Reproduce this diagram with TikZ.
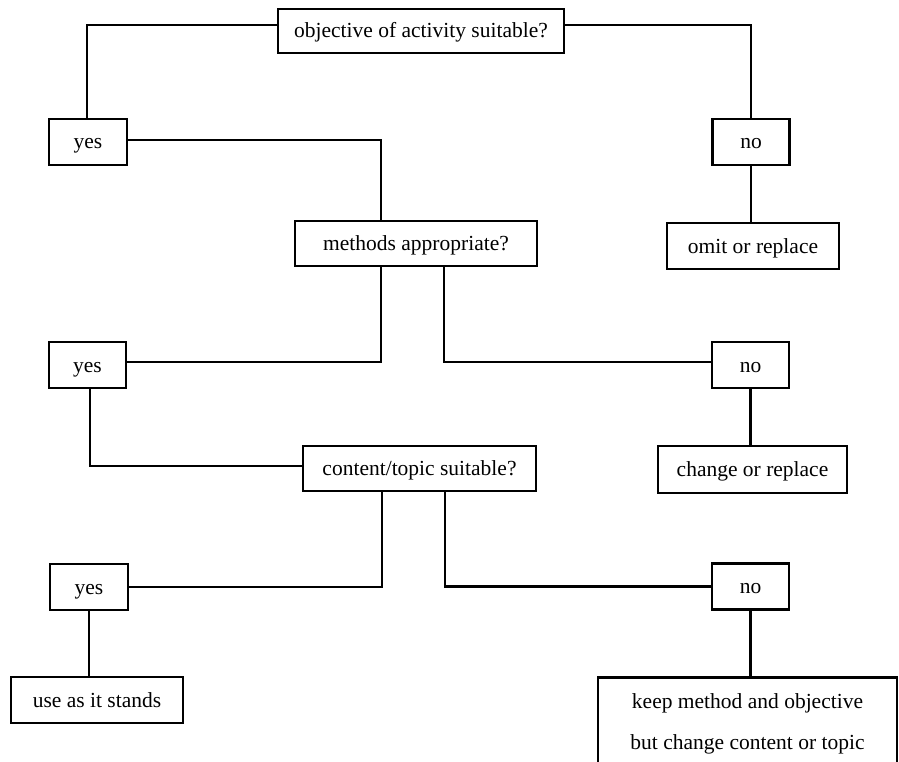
\documentclass[tikz,border=0pt]{standalone}
\usepackage{fontspec}
\setmainfont{Liberation Serif}
\begin{document}
\begin{tikzpicture}[x=1pt,y=-1pt,
  box/.style={draw, line width=2.6pt, rectangle, inner sep=0pt, align=center,
    text height=18pt, text depth=4pt,
    font=\fontsize{21.5}{26}\selectfont},
  conn/.style={line width=2.6pt}]
\useasboundingbox (0,0) rectangle (899,762);
\node[box, minimum width=286, minimum height=44] (obj) at (421,31) {objective of activity suitable?};
\node[box, minimum width=78, minimum height=46] (yes1) at (88,142) {yes};
\node[box, minimum width=77, minimum height=46] (no1) at (751,142) {no};
\node[box, minimum width=172, minimum height=46] (omit) at (753,246) {omit or replace};
\node[box, minimum width=242, minimum height=45] (meth) at (416,243.5) {methods appropriate?};
\node[box, minimum width=77, minimum height=46] (yes2) at (87.5,365) {yes};
\node[box, minimum width=77, minimum height=46] (no2) at (750.5,365) {no};
\node[box, minimum width=189, minimum height=47] (chg) at (752.5,469.5) {change or replace};
\node[box, minimum width=233, minimum height=45] (cont) at (419.5,468.5) {content/topic suitable?};
\node[box, minimum width=78, minimum height=46] (yes3) at (89,587) {yes};
\node[box, minimum width=77, minimum height=46] (no3) at (750.5,586.5) {no};
\node[box, minimum width=172, minimum height=46] (use) at (97,700) {use as it stands};
\node[box, minimum width=299, minimum height=92, text height=, text depth=,
  font=\fontsize{21.5}{41}\selectfont] (fin) at (747.5,723.5) {keep method and objective\\but change content or topic};

\draw[conn] ([yshift=6pt]obj.west) -| ([xshift=-1pt]yes1.north);
\draw[conn] ([yshift=6pt]obj.east) -| (no1.north);
\draw[conn] (no1.south) -- (no1.south |- omit.north);
\draw[conn] ([yshift=2pt]yes1.east) -| ([xshift=-35pt]meth.north);
\draw[conn] ([xshift=-35pt]meth.south) |- ([yshift=3pt]yes2.east);
\draw[conn] ([xshift=28pt]meth.south) |- ([yshift=3pt]no2.west);
\draw[conn] (no2.south) -- (no2.south |- chg.north);
\draw[conn] ([xshift=2.5pt]yes2.south) |- ([yshift=2.5pt]cont.west);
\draw[conn] ([xshift=-37.5pt]cont.south) |- (yes3.east);
\draw[conn] ([xshift=25.5pt]cont.south) |- (no3.west);
\draw[conn] (yes3.south) -- (yes3.south |- use.north);
\draw[conn] (no3.south) -- (no3.south |- fin.north);
\end{tikzpicture}
\end{document}
